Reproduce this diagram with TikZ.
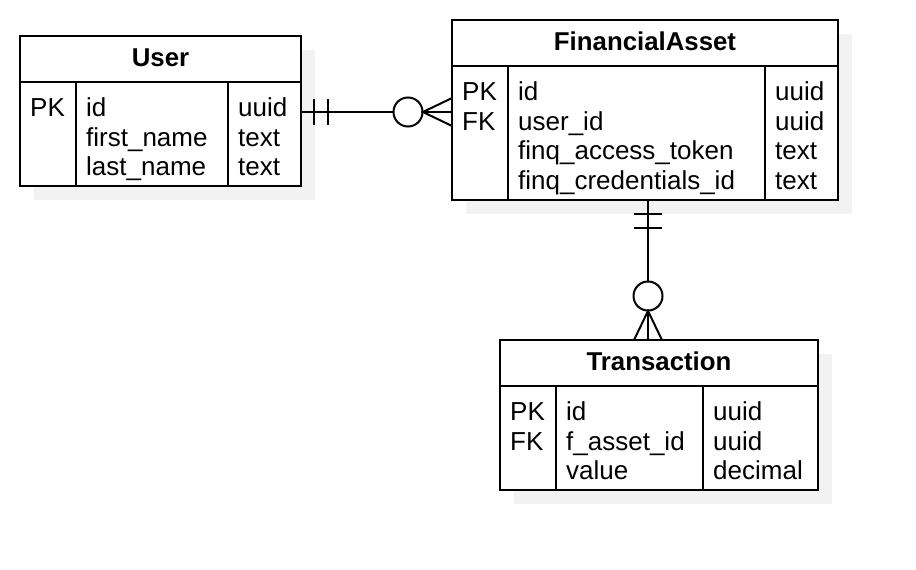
\documentclass[tikz,border=0pt]{standalone}
\usepackage{fontspec}
\setmainfont{Liberation Sans}
\usetikzlibrary{calc}
\begin{document}
\begin{tikzpicture}[x=1pt,y=-1pt,
  tbl/.style={draw=black, fill=white, line width=2pt, inner sep=0pt, outer sep=0pt, anchor=north west},
  shadowbox/.style={fill=gray!10, inner sep=0pt, outer sep=0pt, anchor=north west},
  txt/.style={inner sep=0pt, anchor=base west, font=\fontsize{26}{30}\selectfont},
  ttl/.style={inner sep=0pt, anchor=base, font=\fontsize{25.8}{30}\selectfont\bfseries},
  conn/.style={line width=2pt},
  divider/.style={line width=1.6pt},
  circ/.style={circle, draw=black, fill=white, line width=2pt, minimum size=29pt, inner sep=0pt}]
\useasboundingbox (0,0) rectangle (916,570);
\fill[white] (0,0) rectangle (916,570);
% shadows
\node[shadowbox, minimum width=281pt, minimum height=150pt] (us) at (34,50) {};
\node[shadowbox, minimum width=386pt, minimum height=180pt] (fs) at (466,34) {};
\node[shadowbox, minimum width=318pt, minimum height=150pt] (ts) at (514,354) {};
% boxes
\node[tbl, minimum width=281pt, minimum height=150pt] (user) at (20,36) {};
\node[tbl, minimum width=386pt, minimum height=180pt] (fa) at (452,20) {};
\node[tbl, minimum width=318pt, minimum height=150pt] (tx) at (500,340) {};
% dividers
\draw[divider] (user.west |- 0,82) -- (user.east |- 0,82);
\draw[divider] (76,82) -- (76,0 |- user.south);
\draw[divider] (228,82) -- (228,0 |- user.south);
\draw[divider] (fa.west |- 0,66) -- (fa.east |- 0,66);
\draw[divider] (508,66) -- (508,0 |- fa.south);
\draw[divider] (765,66) -- (765,0 |- fa.south);
\draw[divider] (tx.west |- 0,386) -- (tx.east |- 0,386);
\draw[divider] (556,386) -- (556,0 |- tx.south);
\draw[divider] (703,386) -- (703,0 |- tx.south);
% titles
\node[ttl] (ut) at (user.north |- 0,66.5) {User};
\node[ttl] (ft) at (fa.north |- 0,50.5) {FinancialAsset};
\node[ttl] (tt) at (tx.north |- 0,370.5) {Transaction};
% User rows
\node[txt] (uk1) at (30,116.3) {PK};
\foreach \t [count=\i] in {id,first\_name,last\_name}
  \node[txt] (un\i) at (86,{116.3+29.7*(\i-1)}) {\t};
\foreach \t [count=\i] in {uuid,text,text}
  \node[txt] (uy\i) at (238,{116.3+29.7*(\i-1)}) {\t};
% FinancialAsset rows
\node[txt] (fk1) at (462,100.3) {PK};
\node[txt] (fk2) at (462,130) {FK};
\foreach \t [count=\i] in {id,user\_id,finq\_access\_token,finq\_credentials\_id}
  \node[txt] (fn\i) at (518,{100.3+29.7*(\i-1)}) {\t};
\foreach \t [count=\i] in {uuid,uuid,text,text}
  \node[txt] (fy\i) at (775,{100.3+29.7*(\i-1)}) {\t};
% Transaction rows
\node[txt] (tk1) at (510,420.3) {PK};
\node[txt] (tk2) at (510,450) {FK};
\foreach \t [count=\i] in {id,f\_asset\_id,value}
  \node[txt] (tn\i) at (566,{420.3+29.7*(\i-1)}) {\t};
\foreach \t [count=\i] in {uuid,uuid,decimal}
  \node[txt] (ty\i) at (713,{420.3+29.7*(\i-1)}) {\t};
% edge 1: User -- FinancialAsset
\coordinate (e1a) at ([yshift=-1pt]user.east);
\coordinate (e1b) at (e1a -| fa.west);
\draw[conn] (e1a) -- (e1b);
\draw[conn] ($(e1a)+(13,-13)$) -- ($(e1a)+(13,13)$);
\draw[conn] ($(e1a)+(27,-13)$) -- ($(e1a)+(27,13)$);
\node[circ] (c1) at ($(e1b)+(-44,0)$) {};
\draw[conn] ($(e1b)+(0,-14)$) -- ($(e1b)+(-29,0)$) -- ($(e1b)+(0,14)$);
% edge 2: FinancialAsset -- Transaction
\coordinate (e2a) at ([xshift=3pt]fa.south);
\coordinate (e2b) at (e2a |- tx.north);
\draw[conn] (e2a) -- (e2b);
\draw[conn] ($(e2a)+(-14,14)$) -- ($(e2a)+(14,14)$);
\draw[conn] ($(e2a)+(-14,28)$) -- ($(e2a)+(14,28)$);
\node[circ] (c2) at ($(e2b)+(0,-44)$) {};
\draw[conn] ($(e2b)+(-14,0)$) -- ($(e2b)+(0,-29)$) -- ($(e2b)+(14,0)$);
\end{tikzpicture}
\end{document}
